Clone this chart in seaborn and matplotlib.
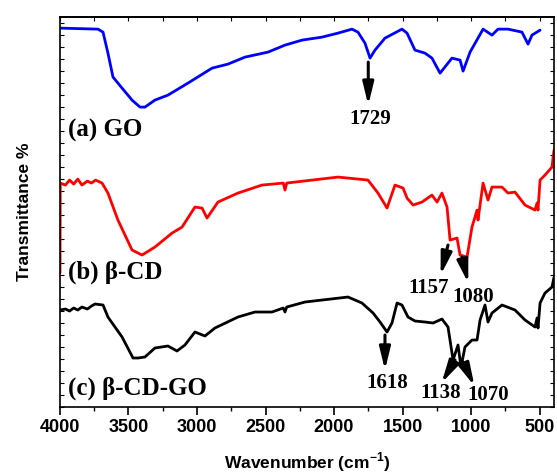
import pandas as pd
import matplotlib
matplotlib.use("Agg")
import matplotlib.pyplot as plt
from matplotlib.ticker import MultipleLocator, NullFormatter
import seaborn as sns

# --- spectra (wavenumber, offset transmittance in arbitrary units) ---
go_wn = [4000, 3723, 3686, 3650, 3613, 3547, 3474, 3416, 3380, 3307, 3212, 3066, 2890,
         2774, 2650, 2482, 2358, 2234, 2088, 1971, 1869, 1825, 1774, 1737, 1701, 1628,
         1504, 1467, 1409, 1336, 1285, 1226, 1139, 1080, 1058, 1007, 912, 847, 803, 730,
         628, 584, 555, 496]
go_t = [379, 378, 375, 354, 330, 319, 307, 300, 300, 307, 312, 324, 339,
        343, 350, 355, 362, 367, 370, 374, 378, 375, 364, 349, 357, 369,
        378, 374, 357, 354, 349, 334, 349, 347, 336, 355, 378, 372, 378, 378,
        375, 363, 372, 377]

cd_wn = [4000, 3998, 3960, 3930, 3900, 3870, 3840, 3800, 3770, 3740, 3693, 3650, 3577,
         3474, 3401, 3307, 3182, 3109, 3015, 2963, 2927, 2847, 2701, 2526, 2370, 2358,
         2345, 2285, 1971, 1752, 1679, 1613, 1555, 1496, 1467, 1423, 1358, 1285, 1248,
         1212, 1175, 1153, 1102, 1080, 1029, 993, 956, 949, 912, 876, 847, 774, 730,
         679, 606, 533, 518, 511, 496, 460, 409, 401, 394]
cd_t = [134, 224, 222, 227, 223, 228, 222, 226, 224, 227, 224, 214, 187,
        157, 152, 160, 174, 180, 200, 199, 189, 205, 214, 222, 224, 217,
        224, 225, 230, 227, 214, 199, 222, 219, 209, 202, 205, 212, 205,
        214, 200, 167, 169, 152, 150, 180, 197, 187, 224, 207, 220, 220, 214,
        215, 202, 197, 204, 197, 227, 232, 240, 250, 257]

cdgo_wn = [4000, 3960, 3930, 3900, 3870, 3840, 3800, 3770, 3744, 3686, 3650, 3547,
           3467, 3430, 3380, 3307, 3212, 3146, 3088, 3015, 2942, 2869, 2701, 2577,
           2453, 2370, 2358, 2345, 2212, 1898, 1796, 1715, 1664, 1613, 1577, 1540,
           1504, 1460, 1409, 1336, 1277, 1212, 1168, 1131, 1095, 1073, 1044, 993, 956,
           934, 898, 876, 847, 774, 679, 606, 533, 518, 511, 496, 460, 409, 394]
cdgo_t = [97, 98, 96, 99, 97, 100, 98, 101, 103, 102, 90, 70,
          49, 49, 50, 59, 61, 56, 62, 75, 71, 79, 90, 95,
          95, 99, 95, 100, 105, 110, 104, 94, 85, 75, 84, 104,
          102, 90, 86, 85, 84, 88, 80, 47, 62, 40, 60, 67, 67,
          87, 102, 85, 94, 102, 97, 87, 80, 89, 79, 104, 114, 120, 130]

series_names = ["(a) GO", "(b) \u03b2-CD", "(c) \u03b2-CD-GO"]
series_colors = ["#0000ff", "#ff0000", "#000000"]
label_y = [277, 135, 19]

# peak annotations: text, arrow tail (wn, t), arrow head (wn, t), label position (wn, t)
peak_text = ["1729", "1157", "1080", "1618", "1138", "1070"]
peak_tail = [(1750, 345), (1168, 162), (1066, 150), (1628, 72), (1117, 47), (1058, 45)]
peak_head = [(1750, 302), (1222, 132), (1020, 124), (1628, 37), (1215, 24), (975, 21)]
peak_label = [(1737, 288), (1307, 119), (985, 110), (1613, 24), (1219, 14), (876, 12)]

frames = []
for name, wn, t in zip(series_names, [go_wn, cd_wn, cdgo_wn], [go_t, cd_t, cdgo_t]):
    frames.append(pd.DataFrame({"wavenumber": wn, "t": t, "sample": name}))
df = pd.concat(frames, ignore_index=True)

sns.set_theme(style="ticks")
plt.rcParams["font.family"] = ["Liberation Sans", "DejaVu Sans"]
plt.rcParams["text.color"] = "black"
plt.rcParams["axes.labelcolor"] = "black"
plt.rcParams["xtick.color"] = "black"
plt.rcParams["ytick.color"] = "black"
plt.rcParams["axes.edgecolor"] = "black"

fig = plt.figure(figsize=(5.57, 4.76), dpi=100)
ax = fig.add_axes([0.1077, 0.145, 0.887, 0.819])

sns.lineplot(data=df, x="wavenumber", y="t", hue="sample", palette=series_colors,
             sort=False, estimator=None, linewidth=2, legend=False, ax=ax)

serif = ["Liberation Serif", "DejaVu Serif"]
for name, y in zip(series_names, label_y):
    ax.text(3945, y, name, fontsize=18, fontweight="bold", va="center", ha="left",
            family=serif)

for txt, tail, head, pos in zip(peak_text, peak_tail, peak_head, peak_label):
    ax.annotate("", xy=head, xytext=tail,
                arrowprops=dict(arrowstyle="-|>,head_length=0.9,head_width=0.22",
                                mutation_scale=15, lw=2.2, color="black",
                                shrinkA=0, shrinkB=0))
    ax.text(pos[0], pos[1], txt, fontsize=15, fontweight="bold", ha="center", va="center",
            family=serif)

ax.set_xlim(4000, 394)
ax.set_ylim(0, 390)
ax.xaxis.set_major_locator(MultipleLocator(500))
ax.xaxis.set_minor_locator(MultipleLocator(250))
ax.yaxis.set_major_locator(MultipleLocator(12))
ax.yaxis.set_major_formatter(NullFormatter())
ax.tick_params(axis="x", which="major", direction="out", length=6, width=1.2,
               labelsize=13, pad=3)
ax.tick_params(axis="x", which="minor", direction="out", length=3, width=1)
ax.tick_params(axis="y", which="major", direction="in", length=3, width=0.8,
               left=True, right=True)
for lbl in ax.get_xticklabels():
    lbl.set_fontweight("bold")
for sp in ax.spines.values():
    sp.set_linewidth(1.2)

# inward ticks along the top frame
top = ax.secondary_xaxis("top")
top.xaxis.set_major_locator(MultipleLocator(250))
top.xaxis.set_major_formatter(NullFormatter())
top.tick_params(direction="in", length=3, width=0.8)

ax.set_xlabel("Wavenumber (cm$^{\\mathregular{-1}}$)", fontsize=12.5, fontweight="bold",
              labelpad=10)
ax.set_ylabel("Transmittance %", fontsize=12.5, fontweight="bold", labelpad=17)

fig.savefig("out.png", dpi=100)
